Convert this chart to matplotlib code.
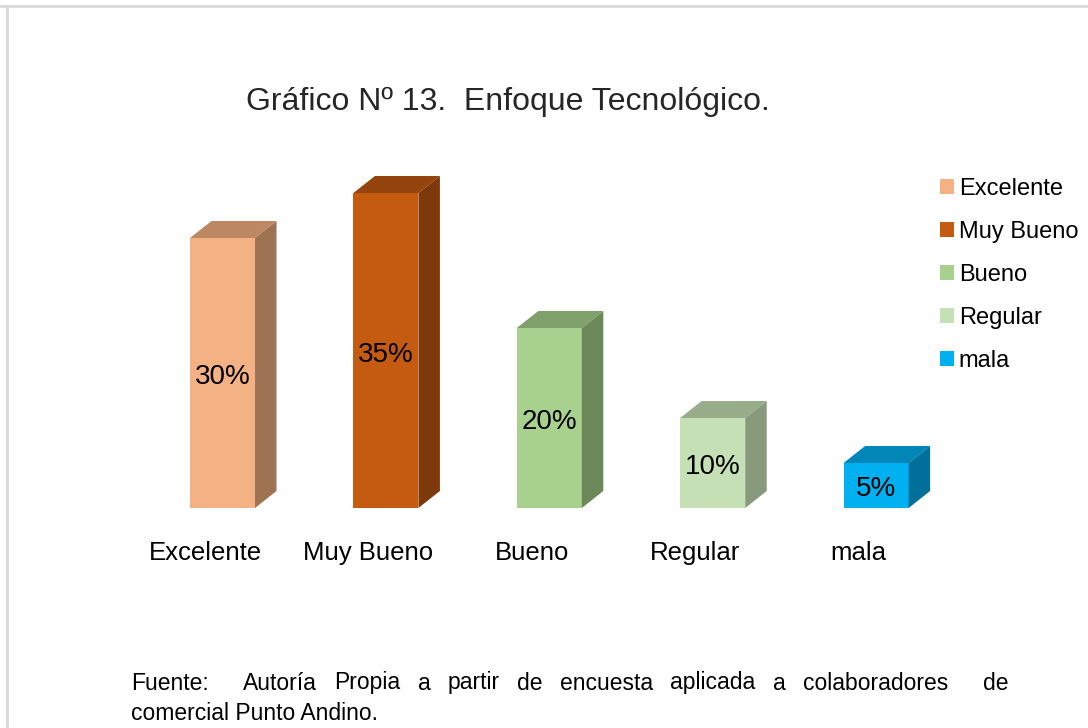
import matplotlib
matplotlib.use("Agg")
import matplotlib.pyplot as plt
from matplotlib.patches import Polygon, Patch
from matplotlib.lines import Line2D
from matplotlib.transforms import offset_copy

plt.rcParams['font.family'] = ['Liberation Sans', 'DejaVu Sans']

# ---- data ----
categories = ["Excelente", "Muy Bueno", "Bueno", "Regular", "mala"]
values = [30, 35, 20, 10, 5]
value_labels = ["30%", "35%", "20%", "10%", "5%"]
front_colors = ["#F4B183", "#C55A11", "#A9D18E", "#C5E0B4", "#00B0F0"]
top_colors = ["#BD8764", "#95440D", "#80A06B", "#98AD8A", "#0087B8"]
side_colors = ["#9E7354", "#7E390B", "#6C895A", "#879A7B", "#00709A"]
title = "Gráfico Nº 13.  Enfoque Tecnológico."
footer_line1 = "Fuente:  Autoría Propia a partir de encuesta aplicada a colaboradores  de"
footer_line2 = "comercial Punto Andino."

W, H = 1088, 728
fig = plt.figure(figsize=(W / 100, H / 100), dpi=100)
fig.patch.set_facecolor("white")

# border
fig.add_artist(Line2D([0, 1], [1 - 6 / H, 1 - 6 / H], color="#D9D9D9", lw=2, transform=fig.transFigure))
fig.add_artist(Line2D([7 / W, 7 / W], [0, 1 - 6 / H], color="#D9D9D9", lw=2, transform=fig.transFigure))

ax = fig.add_axes([140.8 / W, 220 / H, 817 / W, 360 / H])
ax.set_xlim(-0.5, 4.5)
ax.set_ylim(0, 40)
ax.axis("off")

bar_w = 0.398
dx = 21.5 / 163.4
dy = 17 / 9.0

xs = list(range(len(categories)))
bars = ax.bar(xs, values, width=bar_w, color=front_colors, zorder=3, clip_on=False)
for i, (b, v) in enumerate(zip(bars, values)):
    x0 = b.get_x()
    x1 = x0 + b.get_width()
    top = Polygon([(x0, v), (x1, v), (x1 + dx, v + dy), (x0 + dx, v + dy)],
                  closed=True, facecolor=top_colors[i], edgecolor="none", zorder=3, clip_on=False)
    side = Polygon([(x1, 0), (x1 + dx, dy), (x1 + dx, v + dy), (x1, v)],
                   closed=True, facecolor=side_colors[i], edgecolor="none", zorder=3, clip_on=False)
    ax.add_patch(top)
    ax.add_patch(side)
    ax.text(i, v / 2, value_labels[i], ha="center", va="center", fontsize=20, color="black",
            transform=offset_copy(ax.transData, fig=fig, x=0, y=-4, units="dots"), zorder=5)

lab_tr = offset_copy(ax.transData, fig=fig, x=-17.4, y=-45, units="dots")
for i, c in enumerate(categories):
    ax.text(i, 0, c, ha="center", va="center", fontsize=18.5, color="black", transform=lab_tr)

# title
fig.text(508 / W, 1 - 102 / H, title, ha="center", va="center", fontsize=23, color="#262626")

# legend
handles = [Patch(facecolor=c, edgecolor="none") for c in front_colors]
fig.legend(handles, categories, loc="upper left", bbox_to_anchor=(940 / W, 1 - 178 / H),
           frameon=False, fontsize=17, handlelength=0.6, handleheight=0.6,
           handletextpad=0.2, labelspacing=0.89, borderpad=0, borderaxespad=0)

# footer, justified first line (double spaces kept as double gaps)
fig.canvas.draw()
renderer = fig.canvas.get_renderer()
fs = 16.5
tokens = footer_line1.split(" ")
left_px, right_px = 131, 1008
y1 = 1 - 683 / H
probe = fig.text(0, 0, "a a", fontsize=fs)
probe2 = fig.text(0, 0, "aa", fontsize=fs)
space_w = probe.get_window_extent(renderer).width - probe2.get_window_extent(renderer).width
probe.remove()
probe2.remove()
texts, widths = [], []
for tk in tokens:
    if tk:
        t = fig.text(0, y1, tk, fontsize=fs, ha="left", va="center")
        texts.append(t)
        widths.append(t.get_window_extent(renderer).width)
    else:
        texts.append(None)
        widths.append(0.0)
n_gaps = len(tokens) - 1
extra = (right_px - left_px - sum(widths) - n_gaps * space_w) / n_gaps
gap = space_w + extra
x = left_px
for t, wd in zip(texts, widths):
    if t is not None:
        t.set_x(x / W)
    x += wd + gap
fig.text(left_px / W, 1 - 713 / H, footer_line2, fontsize=fs, ha="left", va="center")

fig.savefig("out.png", dpi=100, facecolor="white")
